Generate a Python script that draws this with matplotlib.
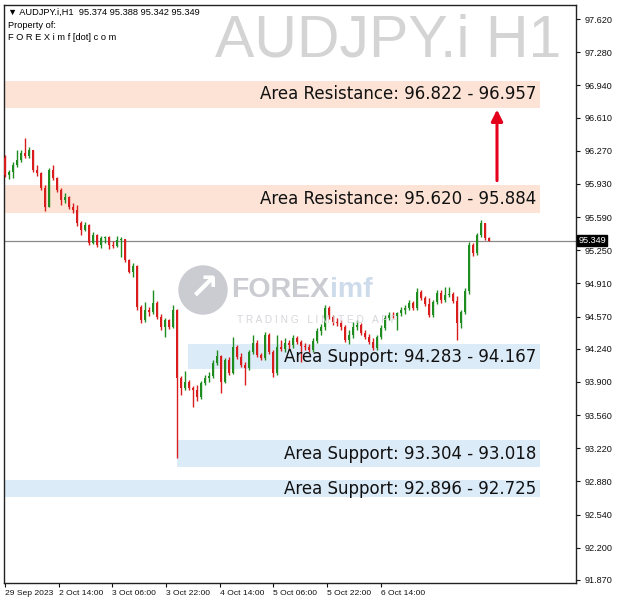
import numpy as np
import matplotlib
matplotlib.use('Agg')
import matplotlib.pyplot as plt
from matplotlib.patches import Circle

# ---- data (AUDJPY.i H1) ----
first_open = 96.195
closes = [96.020, 96.051, 96.123, 96.175, 96.246, 96.216, 96.277, 96.072, 96.041, 95.887,
          95.692, 96.072, 95.989, 95.867, 95.764, 95.795, 95.692, 95.661, 95.528, 95.457,
          95.508, 95.323, 95.405, 95.303, 95.375, 95.385, 95.303, 95.293, 95.354, 95.364,
          95.149, 95.026, 95.088, 94.667, 94.534, 94.636, 94.616, 94.708, 94.565, 94.462,
          94.534, 94.462, 94.636, 93.939, 93.837, 93.898, 93.837, 93.816, 93.744, 93.888,
          93.939, 93.960, 94.093, 94.165, 93.898, 94.124, 93.990, 94.257, 94.155, 94.073,
          94.042, 94.206, 94.298, 94.175, 94.144, 94.380, 94.206, 93.990, 94.257, 94.237,
          94.298, 94.278, 94.349, 94.308, 94.267, 94.257, 94.226, 94.319, 94.421, 94.462,
          94.657, 94.565, 94.514, 94.503, 94.462, 94.329, 94.380, 94.462, 94.483, 94.401,
          94.360, 94.308, 94.247, 94.360, 94.452, 94.555, 94.585, 94.575, 94.606, 94.636,
          94.657, 94.708, 94.657, 94.821, 94.760, 94.698, 94.585, 94.719, 94.811, 94.739,
          94.790, 94.801, 94.729, 94.503, 94.616, 94.831, 95.303, 95.221, 95.405, 95.528,
          95.374, 95.349]
highs = [96.226, 96.072, 96.154, 96.277, 96.277, 96.400, 96.308, 96.277, 96.123, 96.051,
         95.918, 96.092, 96.123, 95.999, 95.887, 95.836, 95.805, 95.733, 95.713, 95.549,
         95.539, 95.518, 95.436, 95.416, 95.395, 95.395, 95.395, 95.344, 95.395, 95.385,
         95.364, 95.159, 95.118, 95.098, 94.688, 94.719, 94.667, 94.842, 94.729, 94.596,
         94.555, 94.544, 94.688, 94.647, 93.960, 94.011, 93.919, 93.857, 93.867, 93.908,
         93.970, 94.001, 94.124, 94.226, 94.175, 94.144, 94.155, 94.360, 94.278, 94.196,
         94.103, 94.226, 94.380, 94.329, 94.196, 94.411, 94.401, 94.226, 94.380, 94.329,
         94.349, 94.329, 94.380, 94.370, 94.329, 94.298, 94.288, 94.349, 94.452, 94.493,
         94.688, 94.678, 94.585, 94.555, 94.534, 94.483, 94.432, 94.514, 94.534, 94.503,
         94.432, 94.390, 94.349, 94.380, 94.483, 94.585, 94.616, 94.616, 94.616, 94.667,
         94.688, 94.739, 94.729, 94.862, 94.842, 94.780, 94.760, 94.739, 94.842, 94.842,
         94.872, 94.872, 94.821, 94.780, 94.636, 94.862, 95.334, 95.323, 95.426, 95.559,
         95.528, 95.388]
lows = [95.999, 95.979, 95.989, 96.103, 96.154, 96.195, 96.195, 96.051, 96.010, 95.867,
        95.651, 95.692, 95.969, 95.846, 95.713, 95.733, 95.672, 95.631, 95.498, 95.405,
        95.446, 95.303, 95.313, 95.282, 95.272, 95.323, 95.262, 95.272, 95.282, 95.180,
        95.129, 95.016, 94.975, 94.636, 94.503, 94.514, 94.575, 94.596, 94.544, 94.432,
        94.360, 94.442, 94.452, 93.119, 93.765, 93.816, 93.816, 93.642, 93.703, 93.724,
        93.867, 93.898, 93.939, 94.073, 93.785, 93.888, 93.970, 93.980, 94.134, 94.052,
        93.867, 94.021, 94.185, 94.155, 94.124, 94.124, 94.185, 93.949, 93.970, 94.216,
        94.206, 94.226, 94.247, 94.288, 94.103, 94.226, 94.206, 94.206, 94.298, 94.380,
        94.432, 94.544, 94.483, 94.473, 94.432, 94.308, 94.288, 94.349, 94.432, 94.380,
        94.339, 94.288, 94.226, 94.226, 94.339, 94.432, 94.534, 94.555, 94.432, 94.575,
        94.596, 94.636, 94.636, 94.636, 94.739, 94.678, 94.565, 94.565, 94.698, 94.708,
        94.719, 94.770, 94.708, 94.329, 94.452, 94.596, 94.801, 95.190, 95.200, 95.385,
        95.354, 95.342]

last_price = 95.349
header = '\u25bc AUDJPY.i,H1  95.374 95.388 95.342 95.349'

y_ticks = [97.620, 97.280, 96.940, 96.610, 96.270, 95.930, 95.590, 95.250, 94.910,
           94.570, 94.240, 93.900, 93.560, 93.220, 92.880, 92.540, 92.200, 91.870]
x_tick_pos = [0, 13.4, 26.8, 40.3, 53.7, 67.1, 80.6, 94.0]
x_tick_labels = ['29 Sep 2023', '2 Oct 14:00', '3 Oct 06:00', '3 Oct 22:00',
                 '4 Oct 14:00', '5 Oct 06:00', '5 Oct 22:00', '6 Oct 14:00']

# zones: start bar, low, high, kind, label
zone_start = [-1, -1, 45.75, 43.0, -1]
zone_low = [96.708, 95.631, 94.032, 93.027, 92.719]
zone_high = [96.985, 95.918, 94.288, 93.304, 92.894]
zone_kind = ['res', 'res', 'sup', 'sup', 'sup']
zone_text = ['Area Resistance: 96.822 - 96.957', 'Area Resistance: 95.620 - 95.884',
             'Area Support: 94.283 - 94.167', 'Area Support: 93.304 - 93.018',
             'Area Support: 92.896 - 92.725']
zone_end = 133.75

opens = [first_open] + closes[:-1]
o = np.array(opens); c = np.array(closes)
h = np.maximum(np.array(highs), np.maximum(o, c))
l = np.minimum(np.array(lows), np.minimum(o, c))
idx = np.arange(len(c))

lib = ['Liberation Sans', 'DejaVu Sans']

fig = plt.figure(figsize=(6.2, 6.06), dpi=100)
ax = fig.add_axes([4/620, 1-583/606, 572/620, 578/606])
ax.set_xlim(-0.25, 142.75)
ax.set_ylim(91.838, 97.764)

#zones
for s, lo, hi, kind, txt in zip(zone_start, zone_low, zone_high, zone_kind, zone_text):
    col = '#fce3d6' if kind == 'res' else '#dcebf8'
    ax.fill_between([s, zone_end], lo, hi, color=col, lw=0, zorder=1)
    ax.text(zone_end - 1.0, (lo+hi)/2, txt, ha='right', va='center', fontsize=12,
            color='#111111', zorder=6)

#watermark
fig.add_artist(Circle((2.03, 3.16), 0.24, transform=fig.dpi_scale_trans,
                      color='#cbcbd2', zorder=2))
fig.text(2.03/6.2, 3.16/6.06, '\u2197', fontsize=26, fontweight='bold', color='white',
         ha='center', va='center', zorder=3)
fig.text(231/620, 1-290/606, 'FOREX', family='Liberation Sans', fontsize=20.5,
         fontweight='bold', color='#cbcbd2', ha='left', va='center', zorder=2)
fig.text(330/620, 1-290/606, 'imf', family='Liberation Sans', fontsize=20.5,
         fontweight='bold', color='#cddbeb', ha='left', va='center', zorder=2)
fig.text(237/620, 1-320/606, 'T R A D I N G   L I M I T E D   A P P', family='Liberation Sans',
         fontsize=7.3, color='#d6d6dc', ha='left', va='center', zorder=2)

#price line
ax.axhline(last_price, color='#8a8a8a', lw=0.9, zorder=2)

#candles
up = c >= o
colors = np.where(up, '#1e8c1e', '#d91c1c')
ax.vlines(idx, l, h, colors=colors, lw=1.0, zorder=4)
body = np.maximum(np.abs(c - o), 0.012)
ax.bar(idx, body, bottom=np.minimum(o, c), width=0.72, color=colors, lw=0, zorder=5)

#arrow
ax.annotate('', xy=(123, 96.72), xytext=(123, 95.935),
            arrowprops=dict(arrowstyle='-|>', color='#e4001b', lw=2.2, mutation_scale=17),
            zorder=7)

#axes
ax.yaxis.tick_right()
ax.set_yticks(y_ticks)
ax.set_yticklabels(['%.3f' % v for v in y_ticks], family=lib, fontsize=6.6)
ax.set_xticks(x_tick_pos)
ax.set_xticklabels(x_tick_labels, ha='left', family=lib, fontsize=6.1)
ax.tick_params(axis='both', length=3, width=0.8, pad=2, colors='#111111')
ax.tick_params(axis='y', pad=3)
for sp in ax.spines.values():
    sp.set_linewidth(1.0)
    sp.set_color('#222222')

ax.text(1.004, last_price, '95.349', transform=ax.get_yaxis_transform(), family=lib,
        fontsize=6.6, color='white', ha='left', va='center', zorder=8, clip_on=False,
        bbox=dict(boxstyle='square,pad=0.15', fc='black', ec='black'))

#header
fig.text(8/620, 1-12/606, header, ha='left', va='center', family=lib, fontsize=6.7)
fig.text(8/620, 1-26/606, 'Property of:', ha='left', va='center', family=lib, fontsize=6.7)
fig.text(8/620, 1-38/606, 'F O R E X i m f [dot] c o m', ha='left', va='center',
         family=lib, fontsize=6.7)
fig.text(561/620, 1-41/606, 'AUDJPY.i H1', family='Liberation Sans', fontsize=42.5,
         color='#d4d4d4', ha='right', va='center', zorder=1)

fig.savefig('out.png', dpi=100)
